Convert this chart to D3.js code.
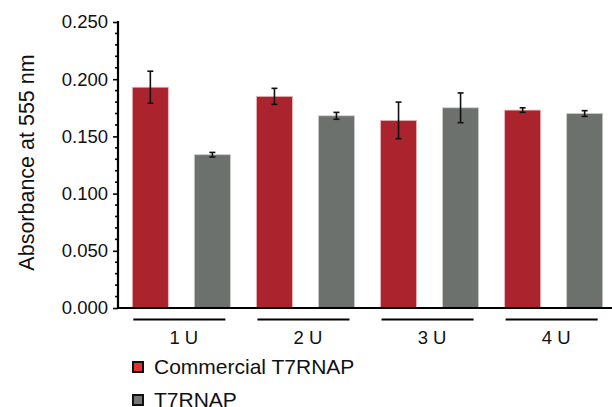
<!DOCTYPE html>
<html>
<head>
<meta charset="utf-8">
<script src="https://cdn.jsdelivr.net/npm/d3@7"></script>
<style>
  body { margin: 0; background: #fff; }
  svg { display: block; font-family: "Liberation Sans", Arial, sans-serif; }
</style>
</head>
<body>
<div id="chart"></div>
<script>
// data
const groups = ["1 U", "2 U", "3 U", "4 U"];
const seriesNames = ["Commercial T7RNAP", "T7RNAP"];
const commercialValues = [0.193, 0.185, 0.164, 0.173];
const commercialErrors = [0.014, 0.007, 0.016, 0.002];
const t7Values = [0.134, 0.168, 0.175, 0.170];
const t7Errors = [0.002, 0.003, 0.013, 0.0025];
const yTicks = [0, 0.05, 0.1, 0.15, 0.2, 0.25];

const width = 612;
const height = 407;
const colors = { "Commercial T7RNAP": "#ab242d", "T7RNAP": "#6d716e" };
const legendColors = { "Commercial T7RNAP": "#de3434", "T7RNAP": "#737873" };

const rows = [];
groups.forEach((g, i) => {
  rows.push({ group: g, series: seriesNames[0], value: commercialValues[i], err: commercialErrors[i] });
  rows.push({ group: g, series: seriesNames[1], value: t7Values[i], err: t7Errors[i] });
});

const svg = d3.select("#chart").append("svg")
  .attr("width", width)
  .attr("height", height);

const y = d3.scaleLinear().domain([0, 0.25]).range([308, 22]);
const x0 = d3.scaleBand().domain(groups).range([119.3, 615.7]);
const x1 = d3.scaleBand().domain(seriesNames).range([0, x0.bandwidth()])
  .paddingInner(0.419).paddingOuter(0.21);

// bars
svg.append("g").selectAll("rect")
  .data(rows)
  .join("rect")
  .attr("x", d => x0(d.group) + x1(d.series))
  .attr("y", d => y(d.value))
  .attr("width", x1.bandwidth())
  .attr("height", d => y(0) - y(d.value))
  .attr("fill", d => colors[d.series])
  .attr("stroke", d => d.series === seriesNames[0] ? "#e9b9bb" : "#c9cbc9")
  .attr("stroke-width", 0.8);

// error bars
const errG = svg.append("g").attr("stroke", "#111").attr("stroke-width", 1.6);
rows.forEach(d => {
  const cx = x0(d.group) + x1(d.series) + x1.bandwidth() / 2;
  const top = y(d.value + d.err);
  const bot = y(d.value - d.err);
  errG.append("line").attr("x1", cx).attr("x2", cx).attr("y1", top).attr("y2", bot);
  errG.append("line").attr("x1", cx - 3).attr("x2", cx + 3).attr("y1", top).attr("y2", top);
  errG.append("line").attr("x1", cx - 3).attr("x2", cx + 3).attr("y1", bot).attr("y2", bot);
});

// y axis with minor ticks
const yAxis = d3.axisLeft(y).tickValues(yTicks).tickFormat(d3.format(".3f"))
  .tickSize(5).tickPadding(5);
const gy = svg.append("g").attr("transform", "translate(118,0)").call(yAxis);
gy.select(".domain").remove();
gy.selectAll(".tick line").attr("stroke", "#000").attr("stroke-width", 1.6);
gy.selectAll(".tick text")
  .attr("font-size", 18.5)
  .attr("font-family", "Liberation Sans, Arial, sans-serif")
  .attr("fill", "#111");

const minor = d3.range(0, 0.2501, 0.01).filter(v => Math.round(v * 100) % 5 !== 0);
svg.append("g").selectAll("line")
  .data(minor)
  .join("line")
  .attr("x1", 115).attr("x2", 118)
  .attr("y1", d => y(d)).attr("y2", d => y(d))
  .attr("stroke", "#000").attr("stroke-width", 1.6);

svg.append("line")
  .attr("x1", 118).attr("x2", 118)
  .attr("y1", y(0.25) - 1).attr("y2", y(0) + 1)
  .attr("stroke", "#000").attr("stroke-width", 2.2);

// x baseline
svg.append("line")
  .attr("x1", 117).attr("x2", width)
  .attr("y1", y(0)).attr("y2", y(0))
  .attr("stroke", "#000").attr("stroke-width", 2.2);

// group underlines and labels
const gx = svg.append("g").selectAll("g")
  .data(groups)
  .join("g")
  .attr("transform", d => `translate(${x0(d)},0)`);

gx.append("line")
  .attr("x1", x1(seriesNames[0]) + 1)
  .attr("x2", x1(seriesNames[1]) + x1.bandwidth() - 5)
  .attr("y1", 319.5).attr("y2", 319.5)
  .attr("stroke", "#000").attr("stroke-width", 2.2);

gx.append("text")
  .attr("x", x0.bandwidth() / 2 + 2.5)
  .attr("y", 344)
  .attr("text-anchor", "middle")
  .attr("font-size", 18.5)
  .attr("fill", "#111")
  .text(d => d);

// y title
svg.append("text")
  .attr("transform", "translate(34,162.5) rotate(-90)")
  .attr("text-anchor", "middle")
  .attr("font-size", 21.5)
  .attr("fill", "#111")
  .text("Absorbance at 555 nm");

// legend
const legend = svg.append("g").selectAll("g")
  .data(seriesNames)
  .join("g")
  .attr("transform", (d, i) => `translate(132,${361 + i * 33})`);

legend.append("rect")
  .attr("x", 1).attr("y", 1)
  .attr("width", 10).attr("height", 10)
  .attr("fill", d => legendColors[d])
  .attr("stroke", "#111")
  .attr("stroke-width", 2);

legend.append("text")
  .attr("x", 22)
  .attr("y", 13)
  .attr("font-size", 21)
  .attr("fill", "#111")
  .text(d => d);
</script>
</body>
</html>
